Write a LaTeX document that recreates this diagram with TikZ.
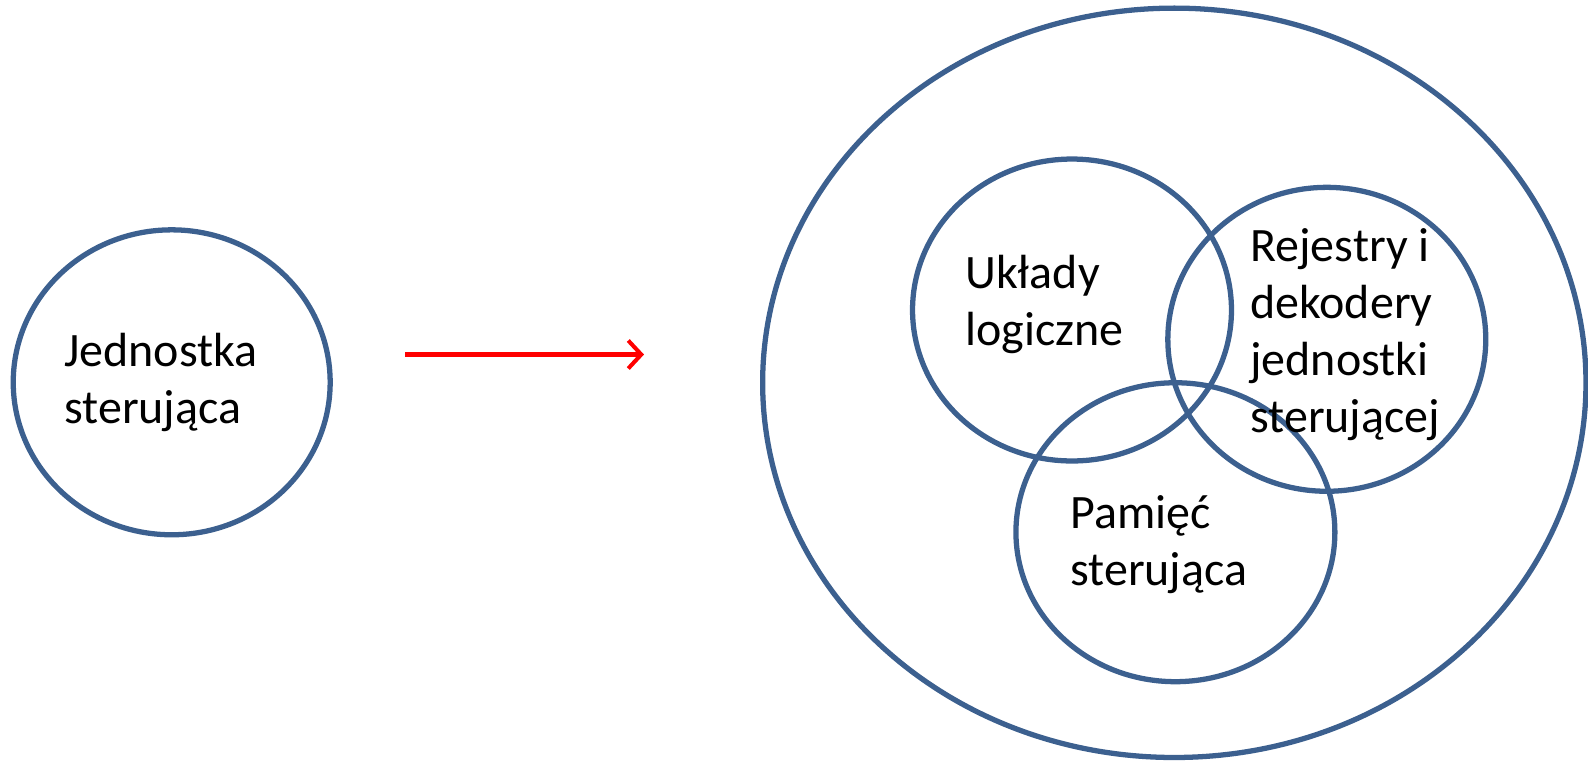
\documentclass[tikz,border=0pt]{standalone}
\usepackage{fontspec}
\setmainfont{Carlito}
\usetikzlibrary{shapes.geometric, arrows.meta}
\definecolor{ringblue}{RGB}{60,96,143}

\begin{document}
\begin{tikzpicture}[
						x=0.02cm, y=-0.02cm,
						ring/.style = {draw=ringblue, line width=3pt, ellipse, inner sep=0pt},
						label/.style = {anchor=base west, align=left, inner sep=0pt, font=\fontsize{27.3}{32.4}\selectfont},
						flow/.style = {draw=red, line width=2.3pt, -{Straight Barb[length=2.6mm, width=5.6mm, line width=2.3pt]}}
					]
\useasboundingbox (0,0) rectangle (1588,762);

\node[ring, minimum width=6.34cm, minimum height=6.1cm] (jednostka) at (171.7,382.3) {};
\node[ring, minimum width=16.47cm, minimum height=14.99cm] (calosc) at (1174.3,382.8) {};
\node[ring, minimum width=6.38cm, minimum height=6.04cm] (uklady) at (1072,310) {};
\node[ring, minimum width=6.36cm, minimum height=6.08cm] (rejestry) at (1326.8,339.3) {};
\node[ring, minimum width=6.38cm, minimum height=5.98cm] (pamiec) at (1175.4,532.2) {};

% base = last line
\node[label] (t1) at (64,423) {Jednostka\\sterująca};
\node[label] (t2) at (965,345) {Układy\\logiczne};
\node[label] (t3) at (1250,432) {Rejestry i\\dekodery\\jednostki\\sterującej};
\node[label] (t4) at (1070,585) {Pamięć\\sterująca};

\coordinate (from) at (405,354.5);
\coordinate (to) at (644,354.5);
\draw[flow] (from) -- (to);
\end{tikzpicture}
\end{document}
